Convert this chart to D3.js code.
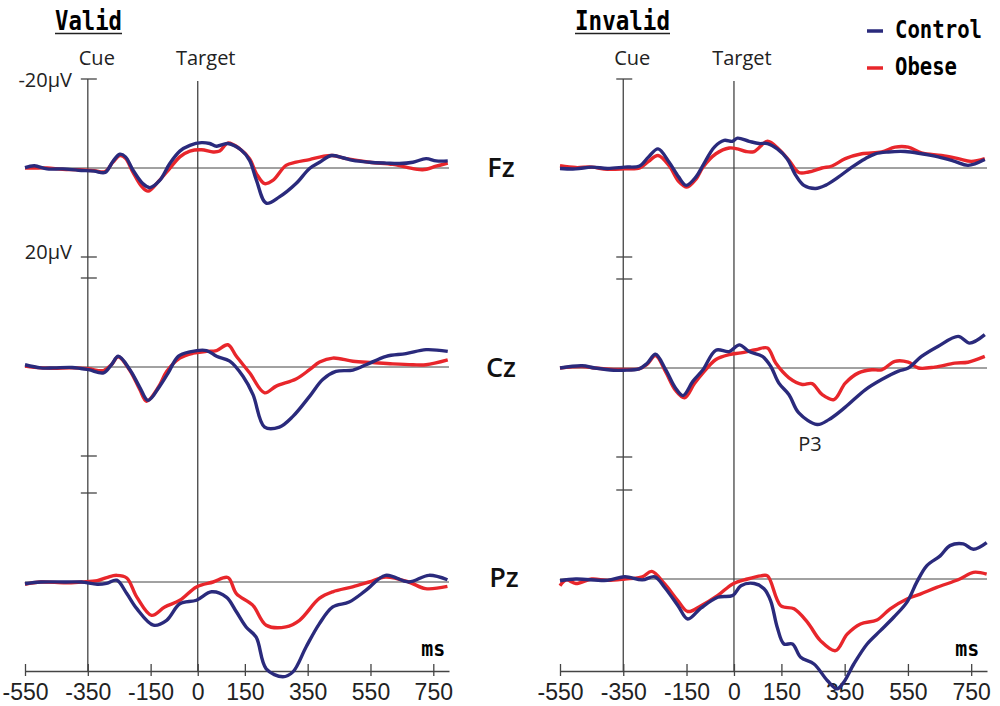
<!DOCTYPE html>
<html>
<head>
<meta charset="utf-8">
<script src="https://cdn.jsdelivr.net/npm/d3@7"></script>
<style>
  body { margin: 0; background: #fff; }
  svg { display: block; }
</style>
</head>
<body>
<svg id="erp" width="1000" height="706"></svg>
<script>
// ERP waveforms, [time ms, amplitude µV]; positive is drawn downward (negative up)
var validFzControl = [[-550,-0.1],[-520,-0.5],[-480,0.2],[-430,0.2],[-380,0.5],[-330,0.7],[-295,1.0],[-270,-1.5],[-248,-3.1],[-230,-2.5],[-206,0.5],[-175,3.5],[-152,4.4],[-121,2.8],[-89,-1],[-57,-3.8],[-25,-5.1],[12,-5.7],[38,-5.5],[60,-4.9],[96,-5.5],[139,-4.0],[165,-1.7],[187,2.8],[218,7.9],[260,6.5],[313,3.5],[356,0.1],[388,-1.3],[425,-2.8],[462,-2.3],[494,-1.7],[547,-1.3],[600,-1.1],[642,-1.0],[685,-1.3],[727,-2.1],[759,-1.6],[796,-1.6]];
var validFzObese = [[-550,0],[-520,0],[-480,0],[-430,0.3],[-380,0.4],[-330,0.6],[-295,0.8],[-270,-1.3],[-248,-2.8],[-230,-2.2],[-206,1.0],[-178,4.2],[-158,5.2],[-125,3.0],[-89,0.1],[-57,-2.5],[-25,-3.8],[12,-4.1],[49,-3.6],[70,-3.8],[96,-5.6],[134,-4.3],[165,-2.1],[187,1.3],[213,3.5],[239,2.8],[281,-0.6],[313,-1.3],[356,-1.9],[398,-2.6],[430,-2.8],[473,-2.1],[547,-1.3],[621,-0.8],[663,-0.2],[716,0.4],[759,-0.4],[796,-1.1]];
var validCzControl = [[-550,-0.5],[-500,0.2],[-459,0.2],[-400,0.1],[-348,0.6],[-300,1.3],[-275,-0.5],[-253,-2.4],[-216,0.6],[-185,4.5],[-158,7.5],[-121,4.3],[-94,1.3],[-62,-2.4],[-25,-3.4],[28,-3.7],[60,-2.4],[102,-1.3],[144,2.1],[176,6.2],[213,13.5],[260,13.5],[303,11.1],[356,6.6],[398,2.8],[440,1.0],[494,0.7],[536,-0.5],[600,-2.4],[663,-3.0],[727,-3.9],[796,-3.5]];
var validCzObese = [[-550,-0.2],[-500,0.2],[-459,0.3],[-400,0.2],[-348,0.4],[-300,0.8],[-275,-0.5],[-253,-2.3],[-216,0.8],[-185,5.0],[-163,7.7],[-125,4.5],[-99,1.0],[-57,-2.0],[-15,-3.1],[28,-3.5],[60,-3.7],[96,-5.0],[123,-2.4],[165,1.3],[213,5.8],[250,4.3],[313,2.7],[356,0.6],[388,-1.1],[430,-2.0],[494,-1.3],[557,-1.0],[621,-0.7],[685,-0.5],[727,-0.5],[796,-1.6]];
var validPzControl = [[-550,0.4],[-500,0],[-420,0],[-370,0],[-320,0.5],[-290,0.3],[-258,-0.4],[-226,2.6],[-194,6.0],[-141,9.7],[-99,8.6],[-57,4.9],[-4,4.1],[44,2.2],[91,3.4],[123,6.7],[154,10.1],[186,12.4],[218,19.5],[271,21.3],[303,20.2],[345,14.6],[387,9.4],[430,5.6],[482,4.5],[535,1.9],[598,-1.5],[672,0],[736,-1.5],[795,-0.5]];
var validPzObese = [[-550,0.5],[-500,0],[-420,0.2],[-370,0],[-320,-0.3],[-290,-1.0],[-258,-1.5],[-226,-0.9],[-194,3.4],[-147,7.5],[-105,5.6],[-57,4.1],[-4,1.1],[49,0],[96,-1.0],[123,2.6],[175,5.2],[218,9.7],[281,10.1],[324,8.6],[387,3.7],[430,2.2],[493,1.1],[546,0],[598,-1.1],[672,0],[725,1.5],[795,1.0]];

var invalidFzControl = [[-550,0.1],[-500,0.2],[-450,-0.2],[-400,0.1],[-345,-0.2],[-298,-0.45],[-270,-2.5],[-240,-4.3],[-205,-1.3],[-175,2.0],[-151,3.9],[-120,2.0],[-98,-0.6],[-62,-4.7],[-31,-6.2],[-5,-6.0],[11,-6.7],[48,-6.0],[79,-5.5],[106,-5.5],[137,-4.3],[168,-2.1],[195,1.6],[221,3.9],[258,4.6],[289,3.9],[331,2.0],[373,-0.2],[415,-2.1],[447,-3.2],[488,-3.6],[541,-3.7],[593,-3.2],[646,-2.5],[698,-1.5],[740,-0.6],[793,-1.9]];
var invalidFzObese = [[-550,-0.5],[-500,-0.1],[-450,-0.2],[-400,0.3],[-345,0.2],[-298,0],[-270,-1.5],[-240,-2.8],[-205,-0.5],[-175,3.0],[-149,4.3],[-120,2.5],[-98,-0.2],[-57,-3.2],[-15,-4.5],[11,-4.3],[38,-3.7],[64,-3.7],[106,-6.0],[142,-4.2],[174,-1.7],[205,1.0],[236,0.9],[278,0],[310,-0.45],[352,-2.1],[404,-3.2],[467,-3.6],[509,-4.7],[551,-4.7],[593,-3.4],[656,-2.8],[709,-2.1],[750,-1.5],[793,-2.1]];
var invalidCzControl = [[-550,0],[-480,-0.5],[-440,0],[-380,0.5],[-350,0.5],[-300,0.2],[-275,-1.0],[-248,-3.1],[-215,0.5],[-185,4.5],[-161,6.2],[-130,3.0],[-98,0.4],[-57,-4.0],[-15,-3.7],[17,-5.2],[48,-3.7],[90,-2.6],[116,-0.4],[142,3.4],[174,6.0],[205,10.1],[263,12.7],[300,11.6],[352,8.8],[415,4.9],[467,2.6],[520,0.7],[551,0],[593,-2.6],[646,-4.9],[709,-7.1],[745,-5.6],[793,-7.5]];
var invalidCzObese = [[-550,0],[-480,-0.3],[-440,0],[-380,0.3],[-350,0.3],[-300,0.2],[-275,-0.8],[-248,-2.8],[-215,1.0],[-185,5.0],[-156,6.7],[-125,3.5],[-98,1.1],[-57,-1.9],[-15,-3.0],[22,-3.4],[69,-4.1],[106,-4.5],[132,-1.1],[174,2.2],[216,3.7],[247,3.5],[279,6.0],[316,7.1],[352,3.4],[394,1.1],[436,0.4],[467,0.4],[509,-1.5],[551,-1.3],[583,0],[635,-0.2],[698,-1.1],[740,-1.3],[793,-2.6]];
var invalidPzControl = [[-550,0.4],[-500,0],[-400,0.3],[-345,-0.5],[-290,0.2],[-250,-0.5],[-219,1.9],[-177,6.0],[-146,9.0],[-104,6.5],[-51,4.1],[-4,3.7],[22,1.5],[64,1.0],[95,2.2],[116,4.9],[137,10.9],[158,14.6],[185,14.6],[211,17.6],[253,19.1],[295,22.8],[326,24.7],[347,23.2],[379,19.1],[421,14.6],[463,11.6],[505,8.6],[547,5.2],[578,0.7],[610,-3.0],[652,-5.2],[683,-7.5],[725,-7.9],[757,-6.7],[799,-8.2]];
var invalidPzObese = [[-550,1.5],[-530,0.2],[-500,1.0],[-450,0],[-400,0.3],[-345,0],[-290,-0.5],[-260,-1.7],[-219,1.1],[-177,4.9],[-146,7.3],[-104,6.0],[-51,3.7],[-4,1.1],[43,0],[85,-0.7],[106,-0.7],[148,6.0],[190,6.7],[232,9.7],[274,13.9],[321,16.1],[358,12.4],[400,10.1],[452,9.2],[494,6.7],[547,4.5],[589,3.4],[641,1.9],[714,0],[757,-1.5],[799,-1.1]];

var channels = ["Fz", "Cz", "Pz"];
var groups = ["Control", "Obese"];
var timeTicks = [-550, -350, -150, 0, 150, 350, 550, 750];
var cueTime = -350, targetTime = 0;

var blue = "#2a2a7c", red = "#e8262b";
var svg = d3.select("#erp");

var panels = [
  {title: "Valid", x0: 25, x1: 449, bases: [168, 367, 582], titleX: 55, titleW: 67,
   series: [[validFzControl, validFzObese], [validCzControl, validCzObese], [validPzControl, validPzObese]]},
  {title: "Invalid", x0: 560, x1: 987, bases: [168, 368, 579], titleX: 575, titleW: 95,
   series: [[invalidFzControl, invalidFzObese], [invalidCzControl, invalidCzObese], [invalidPzControl, invalidPzObese]]}
];
var axisY = 671;

panels.forEach(function(p, pi){
  var x = d3.scaleLinear().domain([-550, 800]).range([p.x0, p.x1]);
  var ys = p.bases.map(function(b){
    return d3.scaleLinear().domain([-20, 20]).range([b - 89, b + 89]);
  });
  var g = svg.append("g");

  // title, underlined
  g.append("text")
    .attr("x", p.titleX).attr("y", 30)
    .attr("font-family", "DejaVu Sans Mono").attr("font-weight", "bold")
    .attr("font-size", 27)
    .attr("textLength", p.titleW).attr("lengthAdjust", "spacingAndGlyphs")
    .text(p.title);
  g.append("line")
    .attr("x1", p.titleX).attr("x2", p.titleX + p.titleW)
    .attr("y1", 33.5).attr("y2", 33.5)
    .attr("stroke", "#222").attr("stroke-width", 1.3);

  // channel baselines
  g.selectAll("line.base").data(ys).join("line")
    .attr("class", "base")
    .attr("x1", p.x0).attr("x2", p.x1)
    .attr("y1", function(y){ return y(0); }).attr("y2", function(y){ return y(0); })
    .attr("stroke", "#444").attr("stroke-width", 1);

  // cue & target lines
  g.append("line")
    .attr("x1", x(cueTime)).attr("x2", x(cueTime))
    .attr("y1", ys[0](-20)).attr("y2", axisY)
    .attr("stroke", "#444").attr("stroke-width", 1.3);
  g.append("line")
    .attr("x1", x(targetTime)).attr("x2", x(targetTime))
    .attr("y1", ys[0](-20) + 2).attr("y2", axisY)
    .attr("stroke", "#444").attr("stroke-width", 1.3);

  // amplitude ticks on the cue line
  var ampTicks = [ys[0](-20), ys[0](20), ys[1](-20), ys[1](20), ys[2](-20)];
  g.selectAll("line.amp").data(ampTicks).join("line")
    .attr("class", "amp")
    .attr("x1", x(cueTime) - 7).attr("x2", x(cueTime) + 9)
    .attr("y1", function(d){ return d; }).attr("y2", function(d){ return d; })
    .attr("stroke", "#444").attr("stroke-width", 1.3);

  var labelFont = "Open Sans";
  g.append("text").attr("x", x(cueTime) + 9).attr("y", 65)
    .attr("text-anchor", "middle").attr("font-family", labelFont).attr("font-size", 20)
    .attr("fill", "#222").text("Cue");
  g.append("text").attr("x", x(targetTime) + 8).attr("y", 65)
    .attr("text-anchor", "middle").attr("font-family", labelFont).attr("font-size", 20)
    .attr("fill", "#222").text("Target");

  if (pi == 0) {
    g.append("text").attr("x", 72).attr("y", ys[0](-20) + 8)
      .attr("text-anchor", "end").attr("font-family", labelFont).attr("font-size", 20)
      .attr("fill", "#222").text("-20μV");
    g.append("text").attr("x", 72).attr("y", ys[0](20) + 2)
      .attr("text-anchor", "end").attr("font-family", labelFont).attr("font-size", 20)
      .attr("fill", "#222").text("20μV");
  }

  // time axis
  var axis = g.append("g")
    .attr("transform", "translate(0," + axisY + ")")
    .call(d3.axisBottom(x).tickValues(timeTicks).tickSize(6).tickSizeOuter(0).tickFormat(d3.format("d")));
  axis.select(".domain").attr("stroke", "#444").attr("stroke-width", 1.3);
  axis.selectAll(".tick line").attr("y1", -7).attr("y2", 5).attr("stroke", "#444").attr("stroke-width", 1.3);
  axis.selectAll(".tick text")
    .attr("y", 29).attr("dy", 0)
    .attr("font-family", "Liberation Sans").attr("font-size", 23).attr("fill", "#222")
    .text(function(d){ return d < 0 ? "-" + Math.abs(d) : d; });

  g.append("text")
    .attr("x", x(750) + (pi == 0 ? 0 : -4)).attr("y", 656)
    .attr("text-anchor", "middle")
    .attr("font-family", "DejaVu Sans Mono").attr("font-weight", "bold").attr("font-size", 22)
    .attr("textLength", 24).attr("lengthAdjust", "spacingAndGlyphs")
    .text("ms");

  // waveforms: obese under control
  var line = d3.line().curve(d3.curveCatmullRom.alpha(0.5));
  p.series.forEach(function(pair, ci){
    var y = ys[ci];
    [1, 0].forEach(function(gi){
      g.append("path")
        .datum(pair[gi])
        .attr("fill", "none")
        .attr("stroke", gi == 0 ? blue : red)
        .attr("stroke-width", 3.4)
        .attr("stroke-linejoin", "round")
        .attr("d", line.x(function(d){ return x(d[0]); }).y(function(d){ return y(d[1]); }));
    });
  });

  if (pi == 1) {
    g.append("text").attr("x", 810).attr("y", 451)
      .attr("text-anchor", "middle").attr("font-family", labelFont).attr("font-size", 20)
      .attr("fill", "#222").text("P3");
  }
});

// channel labels between panels
svg.selectAll("text.chan").data(channels).join("text")
  .attr("class", "chan")
  .attr("x", function(d, i){ return i == 2 ? 504 : 501; })
  .attr("y", function(d, i){ return [177, 377, 587][i]; })
  .attr("text-anchor", "middle")
  .attr("font-family", "Open Sans").attr("font-weight", 600).attr("font-size", 27)
  .attr("fill", "#111")
  .text(function(d){ return d; });

// legend
var legend = svg.append("g");
groups.forEach(function(name, i){
  var ly = 31 + i * 37;
  legend.append("line")
    .attr("x1", 867).attr("x2", 883).attr("y1", ly).attr("y2", ly)
    .attr("stroke", i == 0 ? blue : red).attr("stroke-width", 3.5);
  legend.append("text")
    .attr("x", 895).attr("y", ly + 7)
    .attr("font-family", "DejaVu Sans Mono").attr("font-weight", "bold").attr("font-size", 24)
    .attr("textLength", i == 0 ? 87 : 62).attr("lengthAdjust", "spacingAndGlyphs")
    .text(name);
});
</script>
</body>
</html>
